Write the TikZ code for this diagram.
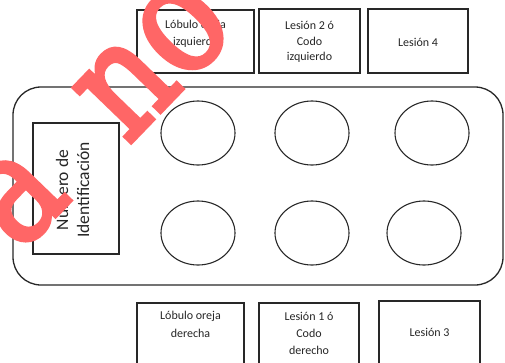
\documentclass[tikz,border=0pt]{standalone}
\usepackage{fontspec}
\setmainfont{Carlito}
\newfontfamily\wmfont[FakeBold=3]{DejaVu Serif}
\usetikzlibrary{shapes.geometric}
\definecolor{wm}{RGB}{255,102,102}
\definecolor{ln}{RGB}{40,40,40}
\tikzset{
  lab/.style={inner sep=0pt, align=center, text=black!85, font=\fontsize{12}{16}\selectfont},
  boxx/.style={draw=ln, line width=1.1pt, inner sep=0pt},
  well/.style={ellipse, draw=ln, line width=1.1pt, minimum width=74pt, minimum height=64pt, inner sep=0pt},
  wmark/.style={text=wm, inner sep=0pt, rotate=46, xscale=0.85, font=\wmfont\fontsize{152}{152}\selectfont}
}
\begin{document}
\begin{tikzpicture}[x=1pt,y=-1pt]
\clip (0,0) rectangle (505,362);
\useasboundingbox (0,0) rectangle (505,362);
\fill[white] (0,0) rectangle (505,362);
% tray
\node[draw=ln, line width=1.3pt, rounded corners=28pt, minimum width=490pt, minimum height=198pt, inner sep=0pt] (tray) at (258,186) {};
% id box
\node[boxx, minimum width=86pt, minimum height=131pt] (idbox) at (76,188.5) {};
\node[lab, rotate=90, font=\fontsize{17.5}{21}\selectfont] (idtext) at (72.5,190) {Número de\\Identificación};
% wells
\node[well] (w11) at (198,133) {};
\node[well] (w12) at (312,133) {};
\node[well] (w13) at (432,133) {};
\node[well] (w21) at (198,233) {};
\node[well] (w22) at (312,233) {};
\node[well] (w23) at (424,233) {};
% top boxes
\node[boxx, minimum width=117pt, minimum height=63pt] (t1) at (195.5,41.5) {};
\node[boxx, minimum width=101pt, minimum height=64pt] (t2) at (309.5,41) {};
\node[boxx, minimum width=100pt, minimum height=64pt] (t3) at (418,41) {};
\node[lab] (t1a) at (195.5,25) {Lóbulo oreja};
\node[lab] (t1b) at (195.5,42) {izquierda};
\node[lab] (t2a) at (309.5,25) {Lesión 2 ó};
\node[lab] (t2b) at (309.5,41.5) {Codo};
\node[lab] (t2c) at (309.5,57.5) {izquierdo};
\node[lab] (t3a) at (418,42) {Lesión 4};
% bottom boxes
\node[boxx, minimum width=107pt, minimum height=70pt] (b1) at (190.5,338) {};
\node[boxx, minimum width=100pt, minimum height=70pt] (b2) at (309,338) {};
\node[boxx, minimum width=101pt, minimum height=72pt] (b3) at (429.5,337) {};
\node[lab] (b1a) at (190.5,316) {Lóbulo oreja};
\node[lab] (b1b) at (190.5,333) {derecha};
\node[lab] (b2a) at (309,316) {Lesión 1 ó};
\node[lab] (b2b) at (309,333) {Codo};
\node[lab] (b2c) at (309,350) {derecho};
\node[lab] (b3a) at (429.5,332) {Lesión 3};
% watermark
\node[wmark] (wa) at (18,198) {a};
\node[wmark] (wn) at (127,88) {n};
\node[wmark] (wo) at (183,30) {o};
\end{tikzpicture}
\end{document}
